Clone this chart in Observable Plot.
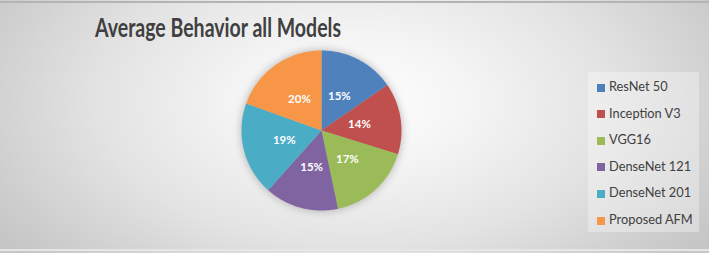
<!DOCTYPE html>
<html><head><meta charset="utf-8">
<script src="https://cdn.jsdelivr.net/npm/d3@7"></script>
<script src="https://cdn.jsdelivr.net/npm/@observablehq/plot@0.6"></script>
<style>
html,body{margin:0;padding:0;background:#fff}
#wrap{position:relative;width:709px;height:253px;overflow:hidden;
 background: radial-gradient(ellipse 60% 95% at 50% 40%, #ffffff 0%, #f4f4f4 28%, #e3e3e3 60%, #c6c6c6 100%);}
#topline{position:absolute;left:0;top:1px;width:709px;height:2px;background:#b4b4b4}
#botline{position:absolute;left:0;top:249px;width:709px;height:2px;background:#e6e6e6}
#title{position:absolute;left:0;top:0}
#chart{position:absolute;left:0;top:0}
#chart svg{background:transparent}
#chart svg g[aria-label="geo"]{filter:drop-shadow(0 0 4px rgba(0,0,0,0.28))}
#legend{position:absolute;left:588px;top:72px;width:111px;height:160px;background:rgba(255,255,255,0.32)}
.item{position:absolute;left:9px;height:16px;line-height:16px;font-family:Lato,sans-serif;font-size:12.8px;color:#404040;white-space:nowrap}
.sw{display:inline-block;width:8px;height:8px;margin-right:4px;vertical-align:-0.5px}
</style></head>
<body>
<div id="wrap">
  <div id="topline"></div>
  <div id="botline"></div>
  <div id="chart"></div>
  <svg id="title" width="709" height="50"></svg>
  <div id="legend"></div>
</div>
<script>
const models = ["ResNet 50","Inception V3","VGG16","DenseNet 121","DenseNet 201","Proposed AFM"];
const shares = [15.4,14.4,16.9,14.9,18.9,19.5];
const labels = ["15%","14%","17%","15%","19%","20%"];
const colors = ["#4F81BD","#C0504D","#9BBB59","#8064A2","#4BACC6","#F79646"];
const titleText = "Average Behavior all Models";

const arcs = d3.pie().sort(null).value(d => d)(shares);
const slices = arcs.map((a, i) => {
  const pts = [[0, 0]];
  const n = Math.max(4, Math.ceil((a.endAngle - a.startAngle) / 0.01));
  for (let k = 0; k <= n; k++) {
    const t = a.startAngle + (a.endAngle - a.startAngle) * k / n;
    pts.push([Math.sin(t), -Math.cos(t)]);
  }
  pts.push([0, 0]);
  return {type: "Feature", properties: {model: models[i]}, geometry: {type: "Polygon", coordinates: [pts]}};
});
const labelPts = arcs.map((a, i) => {
  const m = (a.startAngle + a.endAngle) / 2;
  return {x: 0.48 * Math.sin(m), y: -0.48 * Math.cos(m), text: labels[i]};
});

const chart = Plot.plot({
  width: 709, height: 253,
  marginLeft: 241, marginRight: 308, marginTop: 50, marginBottom: 43,
  projection: {type: "identity", domain: {type: "MultiPoint", coordinates: [[-1, -1], [1, 1]]}},
  color: {domain: models, range: colors},
  marks: [
    Plot.geo(slices, {fill: d => d.properties.model, stroke: "none"}),
    Plot.text(labelPts, {x: "x", y: "y", text: "text", fill: "white", fontWeight: "bold", fontSize: 11.5, fontFamily: "Lato, sans-serif"})
  ]
});
document.getElementById("chart").appendChild(chart);

// Title
d3.select("#title").append("text")
  .attr("x", 95).attr("y", 37)
  .attr("textLength", 246).attr("lengthAdjust", "spacingAndGlyphs")
  .attr("font-family", "Lato, sans-serif").attr("font-weight", "bold")
  .attr("font-size", 27).attr("fill", "#404040")
  .text(titleText);

// Legend using the plot's color scale
const cs = chart.scale("color");
const colorOf = d3.scaleOrdinal(cs.domain, cs.range);
const leg = d3.select("#legend");
models.forEach((m, i) => {
  const it = leg.append("div").attr("class", "item").style("top", (6 + i * 26.6) + "px");
  it.append("span").attr("class", "sw").style("background", colorOf(m));
  it.append("span").text(m);
});
</script>
</body></html>
